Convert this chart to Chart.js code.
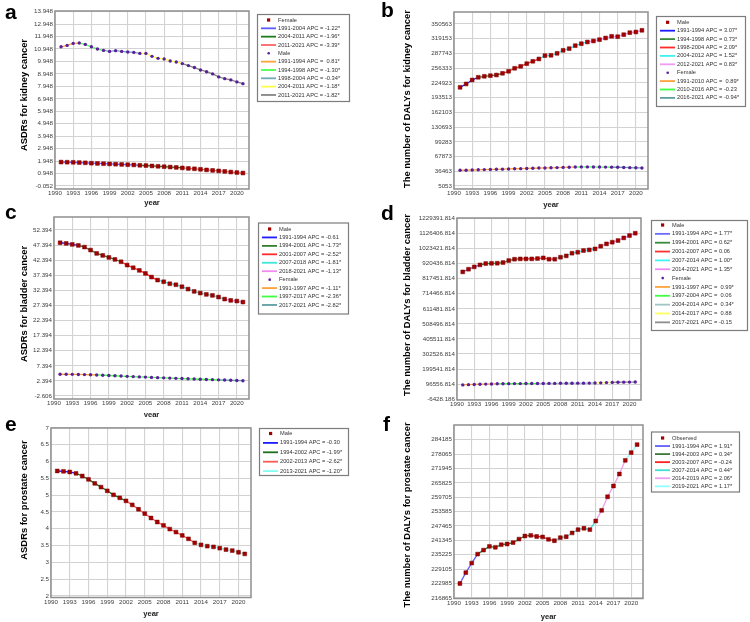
<!DOCTYPE html>
<html><head><meta charset="utf-8">
<script src="https://cdn.jsdelivr.net/npm/chart.js@4/dist/chart.umd.min.js"></script>
<style>
body{margin:0;background:#fff;width:750px;height:622px;position:relative;overflow:hidden}
canvas{position:absolute}
</style></head><body>
<canvas id="pa" width="375" height="210" style="left:0;top:0;width:375px;height:210px"></canvas>
<canvas id="pb" width="375" height="210" style="left:375px;top:0;width:375px;height:210px"></canvas>
<canvas id="pc" width="375" height="212" style="left:0;top:205px;width:375px;height:212px"></canvas>
<canvas id="pd" width="375" height="212" style="left:375px;top:205px;width:375px;height:212px"></canvas>
<canvas id="pe" width="375" height="212" style="left:0;top:410px;width:375px;height:212px"></canvas>
<canvas id="pf" width="375" height="212" style="left:375px;top:410px;width:375px;height:212px"></canvas>
<script>
// ---------------- DATA ----------------
const years = [1991,1992,1993,1994,1995,1996,1997,1998,1999,2000,2001,2002,2003,2004,2005,2006,2007,2008,2009,2010,2011,2012,2013,2014,2015,2016,2017,2018,2019,2020,2021];
const xTickLabels = ['1990','1993','1996','1999','2002','2005','2008','2011','2014','2017','2020'];

// a: ASDRs kidney
const aYTitle = 'ASDRs for kidney cancer';
const aYTicks = ['13.948','12.948','11.948','10.948','9.948','8.948','7.948','6.948','5.948','4.948','3.948','2.948','1.948','0.948','-0.052'];
const aFemale = [1.87,1.86,1.85,1.83,1.81,1.78,1.76,1.74,1.72,1.70,1.68,1.66,1.64,1.61,1.59,1.56,1.53,1.50,1.47,1.44,1.40,1.36,1.33,1.29,1.24,1.20,1.16,1.12,1.07,1.03,0.99];
const aFemaleBreaks = [1991,2004,2011,2021];
const aFemaleApc = ['-1.22*','-1.96*','-3.39*'];
const aMale = [11.13,11.24,11.40,11.43,11.32,11.13,10.95,10.84,10.76,10.82,10.76,10.71,10.68,10.60,10.60,10.36,10.20,10.15,9.99,9.91,9.78,9.62,9.46,9.27,9.13,8.95,8.71,8.57,8.47,8.31,8.17];
const aMaleBreaks = [1991,1994,1998,2004,2011,2021];
const aMaleApc = [' 0.81*','-1.30*','-0.34*','-1.18*','-1.82*'];

// b: DALYs kidney
const bYTitle = 'The number of DALYs for kidney cancer';
const bYTicks = ['350563','319153','287743','256333','224923','193513','162103','130693','99283','67873','36463','5053'];
const bMale = [215500,222700,231200,236900,239000,240400,241800,245400,249700,256100,260300,266000,271000,276000,283100,283800,288000,294400,298000,304400,308600,312200,314300,317200,320700,324300,323600,327800,332100,333500,337100];
const bMaleBreaks = [1991,1994,1998,2004,2012,2021];
const bMaleApc = ['3.07*','0.73*','2.09*','1.52*','0.83*'];
const bFemale = [38600,38800,39200,39600,40000,40300,40700,41000,41400,41800,42100,42500,42900,43300,43600,43900,44300,44700,45100,45500,45800,45800,45700,45500,45400,45300,45000,44600,44200,43900,43600];
const bFemaleBreaks = [1991,2010,2016,2021];
const bFemaleApc = [' 0.89*','-0.23','-0.94*'];

// c: ASDRs bladder
const cYTitle = 'ASDRs for bladder cancer';
const cYTicks = ['52.394','47.394','42.394','37.394','32.394','27.394','22.394','17.394','12.394','7.394','2.394','-2.606'];
const cMale = [48.17,47.95,47.62,47.28,46.73,45.74,44.63,43.97,43.31,42.65,41.87,40.77,39.89,39.01,38.01,36.80,35.80,35.25,34.59,34.26,33.60,32.82,32.05,31.50,31.06,30.73,30.18,29.51,29.07,28.85,28.52];
const cMaleBreaks = [1991,1994,2001,2007,2018,2021];
const cMaleApc = ['-0.61','-1.73*','-2.52*','-1.81*','-1.13*'];
const cFemale = [4.60,4.58,4.56,4.53,4.48,4.43,4.37,4.28,4.19,4.10,4.00,3.91,3.82,3.73,3.65,3.56,3.48,3.40,3.32,3.24,3.17,3.10,3.02,2.95,2.88,2.81,2.75,2.68,2.60,2.53,2.46];
const cFemaleBreaks = [1991,1997,2017,2021];
const cFemaleApc = ['-1.11*','-2.36*','-2.82*'];

// d: DALYs bladder
const dYTitle = 'The number of DALYs for bladder cancer';
const dYTicks = ['1229391.814','1126406.814','1023421.814','920436.814','817451.814','714466.814','611481.814','508496.814','405511.814','302526.814','199541.814','96556.814','-6428.186'];
const dMale = [863500,881700,897700,911300,920400,922000,922700,927300,940900,950000,952300,952300,952300,954600,959100,950000,950000,963700,972800,991000,997800,1009200,1013800,1020600,1038800,1054700,1066100,1077500,1095700,1111600,1127600];
const dMaleBreaks = [1991,1994,2001,2007,2014,2021];
const dMaleApc = ['1.77*','0.62*','0.06','1.00*','1.35*'];
const dFemale = [92000,93500,95000,96500,97500,98500,99500,100000,100300,100600,100800,101000,101200,101400,101700,102000,102300,102700,103000,103400,103700,104000,104300,104700,106000,107500,109000,110000,110500,111000,111500];
const dFemaleBreaks = [1991,1997,2004,2014,2017,2021];
const dFemaleApc = [' 0.99*',' 0.06',' 0.34*',' 0.88','-0.15'];

// e: ASDRs prostate
const eYTitle = 'ASDRs for prostate cancer';
const eYTicks = ['7','6.5','6','5.5','5','4.5','4','3.5','3','2.5','2'];
const eMale = [5.72,5.71,5.69,5.65,5.57,5.47,5.35,5.24,5.13,5.01,4.92,4.83,4.71,4.58,4.45,4.32,4.20,4.10,3.99,3.90,3.80,3.70,3.58,3.52,3.48,3.46,3.42,3.38,3.35,3.30,3.25];
const eMaleBreaks = [1991,1994,2002,2013,2021];
const eMaleApc = ['-0.30','-1.99*','-2.62*','-1.20*'];

// f: DALYs prostate
const fYTitle = 'The number of DALYs for prostate cancer';
const fYTicks = ['284185','278065','271945','265825','259705','253585','247465','241345','235225','229105','222985','216865'];
const fObserved = [223000,227600,231700,235500,237200,238800,238400,239500,239800,240400,241900,243200,243500,243000,242800,241800,241200,242500,242900,244500,245900,246500,245900,249600,254100,259900,264500,269600,275400,278700,282100];
const fObservedBreaks = [1991,1994,2003,2007,2014,2019,2021];
const fObservedApc = ['1.91*','0.34*','-0.24','0.44*','2.06*','1.17*'];

// ---------------- STYLES ----------------
const SQ = {style:'rect', color:'#a30000'};
const DOT = {style:'circle', color:'#5a1f9c'};
const FONT = '"Liberation Sans", Arial, sans-serif';

function segData(values, from, to) {
  const out = [];
  years.forEach((yr, i) => { if (yr >= from && yr <= to) out.push({x: yr, y: values[i]}); });
  return out;
}

function makePanel(id, p, series) {
  const canvas = document.getElementById(id);
  const W = canvas.width, H = canvas.height;
  const datasets = [];
  series.forEach(s => {
    for (let i = 0; i < s.breaks.length - 1; i++) {
      datasets.push({
        data: segData(s.values, s.breaks[i], s.breaks[i+1]),
        borderColor: s.colors[i], borderWidth: 1.3, pointRadius: 0,
        fill: false, tension: 0, order: 2
      });
    }
  });
  series.forEach(s => {
    datasets.push({
      data: years.map((yr, i) => ({x: yr, y: s.values[i]})),
      showLine: false, pointStyle: s.marker.style,
      pointRadius: s.marker.style === 'rect' ? 2.7 : 1.7,
      pointBackgroundColor: s.marker.color,
      pointBorderColor: s.marker.style === 'rect' ? '#7a0000' : s.marker.color,
      pointBorderWidth: s.marker.style === 'rect' ? 0.5 : 0,
      order: 1
    });
  });
  const yVals = p.yTicks.map(t => parseFloat(t));
  const plugin = {
    id: 'deco' + id,
    beforeDatasetsDraw(chart) {
      const ctx = chart.ctx, a = chart.chartArea;
      ctx.save();
      ctx.strokeStyle = '#8e8e8e'; ctx.lineWidth = 1.5;
      ctx.strokeRect(a.left, a.top, a.right - a.left, a.bottom - a.top);
      ctx.restore();
    },
    afterDraw(chart) {
      const ctx = chart.ctx, a = chart.chartArea;
      ctx.save();
      ctx.fillStyle = '#000';
      ctx.font = 'bold 21px ' + FONT;
      ctx.textAlign = 'left'; ctx.textBaseline = 'alphabetic';
      ctx.fillText(p.letter, p.letterX, p.letterY);
      // x title
      ctx.font = 'bold 7.6px ' + FONT;
      ctx.textAlign = 'center'; ctx.textBaseline = 'middle';
      ctx.fillStyle = '#222';
      ctx.fillText('year', (a.left + a.right) / 2, p.xTitleY);
      // y title
      ctx.save();
      ctx.translate(p.yTitleX, p.yTitleY);
      ctx.rotate(-Math.PI / 2);
      ctx.font = 'bold 9.4px ' + FONT;
      ctx.fillStyle = '#000';
      ctx.fillText(p.yTitle, 0, 0);
      ctx.restore();
      // legend
      const L = p.legend;
      ctx.fillStyle = '#fff';
      ctx.fillRect(L.x, L.y, L.w, L.h);
      ctx.strokeStyle = '#7c7c7c'; ctx.lineWidth = 1.2;
      ctx.strokeRect(L.x + 0.5, L.y + 0.5, L.w, L.h);
      ctx.font = '5.7px ' + FONT;
      ctx.textAlign = 'left'; ctx.textBaseline = 'middle';
      let row = 0;
      series.forEach(s => {
        let y = L.row0 + row * L.rowH;
        ctx.fillStyle = s.marker.color;
        if (s.marker.style === 'rect') {
          ctx.fillRect(L.x + 10, y - 1.6, 3.2, 3.2);
        } else {
          ctx.beginPath(); ctx.arc(L.x + 11.7, y, 1.3, 0, Math.PI * 2); ctx.fill();
        }
        ctx.fillStyle = '#333';
        ctx.fillText(s.name, L.x + 21, y);
        row++;
        for (let i = 0; i < s.breaks.length - 1; i++) {
          y = L.row0 + row * L.rowH;
          ctx.strokeStyle = s.colors[i]; ctx.lineWidth = 1.8;
          ctx.beginPath(); ctx.moveTo(L.x + 4, y); ctx.lineTo(L.x + 19, y); ctx.stroke();
          ctx.fillStyle = '#333';
          ctx.fillText(s.breaks[i] + '-' + s.breaks[i+1] + ' APC = ' + s.apc[i], L.x + 21, y);
          row++;
        }
      });
      ctx.restore();
    }
  };
  return new Chart(canvas, {
    type: 'line',
    data: {datasets},
    options: {
      responsive: false, animation: false, devicePixelRatio: 1,
      layout: {padding: {left: 0, top: p.T, right: W - p.R, bottom: 0}},
      plugins: {legend: {display: false}, tooltip: {enabled: false}},
      scales: {
        x: {
          type: 'linear', min: 1990, max: 2022,
          afterBuildTicks: s => { s.ticks = xTickLabels.map(v => ({value: +v})); },
          afterFit: s => { s.height = H - p.B; },
          ticks: {font: {size: 6.2, family: FONT}, color: '#3c3c3c', padding: 1, maxRotation: 0, autoSkip: false,
                  callback: v => xTickLabels.find(t => +t === v) || ''},
          grid: {color: '#d2d2d2', lineWidth: 1.1, drawTicks: false},
          border: {display: false}
        },
        y: {
          type: 'linear', min: p.yMin, max: p.yMax,
          afterBuildTicks: s => { s.ticks = yVals.map(v => ({value: v})); },
          afterFit: s => { s.width = p.L; },
          ticks: {font: {size: 6.2, family: FONT}, color: '#3c3c3c', padding: 2, autoSkip: false,
                  callback: v => { const k = yVals.findIndex(t => Math.abs(t - v) < 1e-6); return k >= 0 ? p.yTicks[k] : ''; }},
          grid: {color: '#d2d2d2', lineWidth: 1.1, drawTicks: false},
          border: {display: false}
        }
      }
    },
    plugins: [plugin]
  });
}

// panel a
makePanel('pa', {L:55, T:11, R:249, B:189, yMin:-0.293, yMax:14.004, yTicks:aYTicks, yTitle:aYTitle,
  yTitleX:24, yTitleY:95, xTitleY:203, letter:'a', letterX:5, letterY:19,
  legend:{x:257, y:14, w:92, h:87, row0:20, rowH:8.33}},
  [{name:'Female', values:aFemale, breaks:aFemaleBreaks, apc:aFemaleApc, marker:SQ, colors:['#5b5bff','#1f7a1f','#ff6464']},
   {name:'Male', values:aMale, breaks:aMaleBreaks, apc:aMaleApc, marker:DOT, colors:['#ffa23a','#4cff4c','#72a9b9','#ffff4a','#858585']}]);

// panel b
makePanel('pb', {L:79, T:12, R:273, B:189, yMin:-1346, yMax:376160, yTicks:bYTicks, yTitle:bYTitle,
  yTitleX:32, yTitleY:99, xTitleY:205, letter:'b', letterX:6, letterY:17,
  legend:{x:281, y:16, w:89, h:90, row0:22.3, rowH:8.4}},
  [{name:'Male', values:bMale, breaks:bMaleBreaks, apc:bMaleApc, marker:SQ, colors:['#1c1cff','#3a8a3a','#ff2a2a','#40f0f0','#f09cf0']},
   {name:'Female', values:bFemale, breaks:bFemaleBreaks, apc:bFemaleApc, marker:DOT, colors:['#ffa23a','#40ff40','#5f9ea0']}]);

// panel c
makePanel('pc', {L:54, T:12, R:249, B:194, yMin:-3.6, yMax:56.70, yTicks:cYTicks, yTitle:cYTitle,
  yTitleX:24, yTitleY:99, xTitleY:210, letter:'c', letterX:5, letterY:14,
  legend:{x:258, y:17.5, w:90, h:91, row0:24, rowH:8.44}},
  [{name:'Male', values:cMale, breaks:cMaleBreaks, apc:cMaleApc, marker:SQ, colors:['#1c1cff','#2f7f2f','#ff2a2a','#40e6d6','#f08cf0']},
   {name:'Female', values:cFemale, breaks:cFemaleBreaks, apc:cFemaleApc, marker:DOT, colors:['#ffa23a','#40ff40','#5f9ea0']}]);

// panel d
makePanel('pd', {L:82, T:13, R:266, B:195, yMin:-11208, yMax:1231440, yTicks:dYTicks, yTitle:dYTitle,
  yTitleX:32, yTitleY:100, xTitleY:214, letter:'d', letterX:6, letterY:15,
  legend:{x:276, y:15, w:96, h:110, row0:20, rowH:8.85}},
  [{name:'Male', values:dMale, breaks:dMaleBreaks, apc:dMaleApc, marker:SQ, colors:['#6a6aff','#3a8a3a','#ff3030','#40f4f4','#f08cf0']},
   {name:'Female', values:dFemale, breaks:dFemaleBreaks, apc:dFemaleApc, marker:DOT, colors:['#ffa23a','#40ff40','#a3c4c4','#ffff5a','#8e8e8e']}]);

// panel e
makePanel('pe', {L:51, T:18, R:251, B:187.5, yMin:1.952, yMax:7, yTicks:eYTicks, yTitle:eYTitle,
  yTitleX:24, yTitleY:90, xTitleY:204, letter:'e', letterX:5, letterY:21,
  legend:{x:259, y:18, w:89, h:47, row0:23.5, rowH:9.4}},
  [{name:'Male', values:eMale, breaks:eMaleBreaks, apc:eMaleApc, marker:SQ, colors:['#1c1cff','#1f6f1f','#ff5a5a','#80fff0']}]);

// panel f
makePanel('pf', {L:79, T:15, R:268, B:188.5, yMin:216609, yMax:290449, yTicks:fYTicks, yTitle:fYTitle,
  yTitleX:32, yTitleY:105, xTitleY:207, letter:'f', letterX:8, letterY:21,
  legend:{x:276, y:21.5, w:88, h:60, row0:28, rowH:8.05}},
  [{name:'Observed', values:fObserved, breaks:fObservedBreaks, apc:fObservedApc, marker:SQ, colors:['#6060ff','#3a7a3a','#ff2020','#40e0d0','#f09cf0','#90ffff']}]);
</script>
</body></html>
